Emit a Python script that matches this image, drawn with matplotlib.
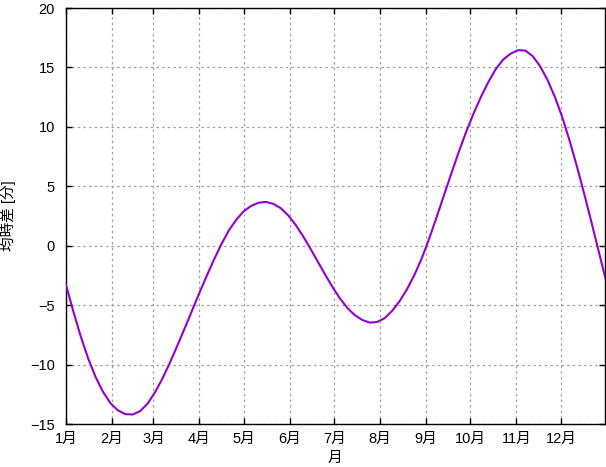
import matplotlib
matplotlib.use("Agg")
import matplotlib.pyplot as plt

# ----------- DATA ------------
# days since 1 Jan, equation of time in minutes
days = [0, 5, 10, 15, 20, 25, 30, 35, 40, 45, 50, 55, 60, 65, 70, 75, 80, 85,
        90, 95, 100, 105, 110, 115, 120, 125, 130, 135, 140, 145, 150, 155,
        160, 165, 170, 175, 180, 185, 190, 195, 200, 205, 210, 215, 220, 225,
        230, 235, 240, 245, 250, 255, 260, 265, 270, 275, 280, 285, 290, 295,
        300, 305, 310, 315, 320, 325, 330, 335, 340, 345, 350, 355, 360, 364]
eot = [-3.3, -5.55, -7.65, -9.5, -11.05, -12.3, -13.25, -13.85, -14.17, -14.2,
       -13.92, -13.3, -12.35, -11.2, -9.88, -8.45, -6.98, -5.48,
       -3.98, -2.53, -1.14, 0.16, 1.3, 2.2, 2.9, 3.35, 3.62, 3.68, 3.52, 3.15,
       2.55, 1.75, 0.8, -0.25, -1.35, -2.45, -3.5, -4.45, -5.25, -5.85, -6.25,
       -6.47, -6.42, -6.1, -5.5, -4.7, -3.7, -2.5, -1.1, 0.55, 2.35, 4.2, 6.05,
       7.85, 9.55, 11.1, 12.5, 13.75, 14.85, 15.65, 16.15, 16.45, 16.42, 15.95,
       15.1, 13.95, 12.5, 10.8, 8.8, 6.6, 4.25, 1.8, -0.7, -2.7]

month_starts = [0, 31, 59, 90, 120, 151, 181, 212, 243, 273, 304, 334]
month_labels = ["1月", "2月", "3月", "4月", "5月", "6月",
                "7月", "8月", "9月", "10月", "11月", "12月"]
y_ticks = [-15, -10, -5, 0, 5, 10, 15, 20]

plt.rcParams['font.family'] = ['Liberation Sans', 'Noto Sans CJK JP', 'DejaVu Sans']
plt.rcParams['font.size'] = 10

# ----------- FIGURE ------------
fig = plt.figure(figsize=(6.06, 4.67), dpi=100)
ax = fig.add_axes([66 / 606, 43 / 467, 539.3 / 606, 416 / 467])

ax.plot(days, eot, color="#9400d3", linewidth=1.5, zorder=3)

ax.set_xlim(0, 364)
ax.set_ylim(-15, 20)
ax.set_xticks(month_starts)
ax.set_xticklabels(month_labels)
ax.set_yticks(y_ticks)

ax.grid(True, color="#a0a0a0", linestyle=(0, (2, 2.5)), linewidth=0.9)
ax.tick_params(direction="in", length=4, width=1, top=True, right=True,
               labelsize=10.5, colors="black")
ax.tick_params(axis="x", pad=6)
ax.tick_params(axis="y", pad=8)
for s in ax.spines.values():
    s.set_linewidth(1)

# axis titles placed by pixel centre, like the reference
fig.text(335 / 606, 1 - 458 / 467, "月", fontsize=10.5, ha="center", va="center")
fig.text(8.5 / 606, 1 - 216 / 467, "均時差 [分]", fontsize=10.5, rotation=90,
         ha="center", va="center")

fig.savefig("out.png", dpi=100)
